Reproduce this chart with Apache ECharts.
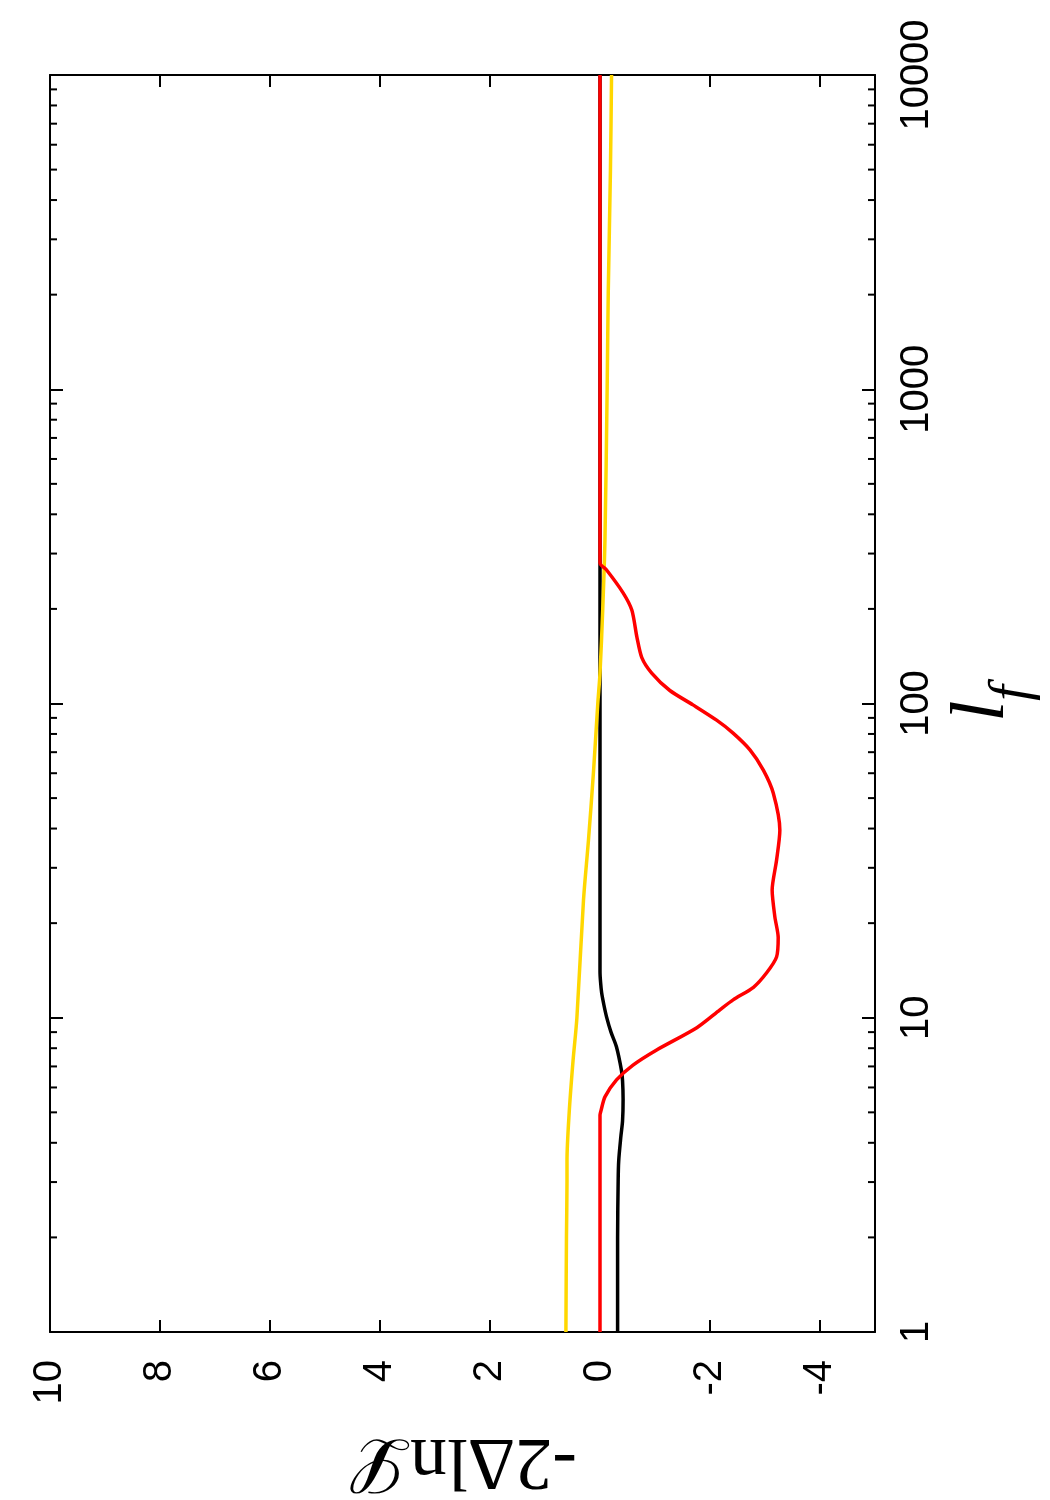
<!DOCTYPE html>
<html>
<head>
<meta charset="utf-8">
<script src="https://cdn.jsdelivr.net/npm/echarts@6/dist/echarts.min.js"></script>
<style>
html,body{margin:0;padding:0;background:#fff;}
#chart{width:1050px;height:1500px;}
</style>
</head>
<body>
<div id="chart"></div>
<script>
// l_f values (vertical log axis) and -2ΔlnL values (horizontal axis)
const lfBlack  = [1, 2, 3, 3.5, 4.2, 4.7, 5.5, 6.3, 6.8, 8.07, 9, 10.05, 11, 12, 13, 14, 100, 280, 10000];
const valBlack = [-0.32, -0.32, -0.33, -0.34, -0.38, -0.41, -0.42, -0.41, -0.39, -0.30, -0.20, -0.12, -0.07, -0.03, -0.01, 0, 0, 0, 0];

const lfYellow  = [1, 2, 3, 3.5, 5, 7.3, 10, 23.7, 36.7, 60, 100, 125, 200, 331, 1000, 2023, 5000, 10000];
const valYellow = [0.62, 0.61, 0.60, 0.60, 0.56, 0.49, 0.42, 0.30, 0.21, 0.12, 0.04, 0, -0.05, -0.09, -0.13, -0.15, -0.19, -0.21];

const lfRed  = [1, 4.9, 5.08, 5.6, 6.34, 7.07, 7.9, 9.3, 10.6, 11.4, 12.5, 13.9, 15.6, 18, 20.9, 25.5, 31.7, 39.5, 51.9, 61.4, 71.1, 80.5, 88.5, 99, 110, 125, 140, 163, 198, 225, 266, 280, 10000];
const valRed = [0, 0, -0.02, -0.09, -0.30, -0.60, -1.03, -1.76, -2.18, -2.42, -2.79, -3.03, -3.21, -3.24, -3.18, -3.13, -3.21, -3.27, -3.15, -2.97, -2.73, -2.42, -2.12, -1.69, -1.27, -0.94, -0.76, -0.67, -0.58, -0.42, -0.12, 0, 0];

const xTickLabels = ['10', '8', '6', '4', '2', '0', '-2', '-4'];
const yTickLabels = ['1', '10', '100', '1000', '10000'];
const minorTickValues = [2,3,4,5,6,7,8,9, 20,30,40,50,60,70,80,90, 200,300,400,500,600,700,800,900, 2000,3000,4000,5000,6000,7000,8000,9000];

function zip(ls, vs) { return ls.map((l, i) => [vs[i], l]); }

const chart = echarts.init(document.getElementById('chart'), null, {renderer: 'canvas'});
const labelFont = {fontFamily: 'Liberation Sans, Arial, sans-serif', fontSize: 40, color: '#000'};
const axisLineStyle = {color: '#000', width: 2};
const tickStyle = {width: 2, color: '#000'};

const option = {
  backgroundColor: '#fff',
  animation: false,
  grid: {left: 50, right: 175, top: 75, bottom: 168, containLabel: false, outerBoundsMode: 'none'},
  xAxis: [
    {
      type: 'value', min: -5, max: 10, inverse: true, splitNumber: 7, position: 'bottom',
      axisLine: {show: true, onZero: false, lineStyle: axisLineStyle},
      axisTick: {show: true, inside: true, length: 12, lineStyle: tickStyle},
      splitLine: {show: false},
      axisLabel: Object.assign({
        rotate: 90, margin: 28,
        formatter: v => xTickLabels.indexOf(String(Math.round(v))) >= 0 ? String(Math.round(v)) : ''
      }, labelFont),
      name: '-2\u0394ln\u2112', nameLocation: 'middle', nameRotate: 180, nameGap: 90,
      nameTextStyle: {fontFamily: 'Liberation Serif, DejaVu Serif, serif', fontSize: 74, color: '#000'}
    },
    {
      type: 'value', min: -5, max: 10, inverse: true, splitNumber: 7, position: 'top',
      axisLine: {show: true, onZero: false, lineStyle: axisLineStyle},
      axisTick: {show: true, inside: true, length: 12, lineStyle: tickStyle},
      splitLine: {show: false}, axisLabel: {show: false}
    }
  ],
  yAxis: [
    {
      type: 'log', logBase: 10, min: 1, max: 10000, position: 'right',
      axisLine: {show: true, onZero: false, lineStyle: axisLineStyle},
      axisTick: {show: true, inside: true, length: 13, lineStyle: tickStyle},
      minorTick: {show: false}, splitLine: {show: false},
      axisLabel: Object.assign({
        rotate: 90, margin: 22,
        formatter: v => { const s = String(Math.round(v)); return yTickLabels.indexOf(s) >= 0 ? s : ''; }
      }, labelFont),
      name: '{l|l}{f|f}', nameLocation: 'middle', nameRotate: 90, nameGap: 64,
      nameTextStyle: {
        color: '#000',
        rich: {
          l: {fontFamily: 'Liberation Serif, DejaVu Serif, serif', fontStyle: 'italic', fontSize: 76, lineHeight: 76, verticalAlign: 'top'},
          f: {fontFamily: 'Liberation Serif, DejaVu Serif, serif', fontStyle: 'italic', fontSize: 56, lineHeight: 96, verticalAlign: 'bottom'}
        }
      }
    },
    {
      type: 'log', logBase: 10, min: 1, max: 10000, position: 'left',
      axisLine: {show: true, onZero: false, lineStyle: axisLineStyle},
      axisTick: {show: true, inside: true, length: 13, lineStyle: tickStyle},
      splitLine: {show: false}, axisLabel: {show: false}
    }
  ],
  series: [
    {
      type: 'custom', xAxisIndex: 0, yAxisIndex: 0, silent: true, clip: false,
      data: minorTickValues.map(v => [0, v]),
      renderItem: function (params, api) {
        const l = api.value(1);
        const pL = api.coord([10, l]);
        const pR = api.coord([-5, l]);
        return {
          type: 'group',
          children: [
            {type: 'line', shape: {x1: pL[0], y1: pL[1], x2: pL[0] + 7, y2: pL[1]}, style: {stroke: '#000', lineWidth: 2}},
            {type: 'line', shape: {x1: pR[0], y1: pR[1], x2: pR[0] - 7, y2: pR[1]}, style: {stroke: '#000', lineWidth: 2}}
          ]
        };
      }
    },
    {
      type: 'line', xAxisIndex: 0, yAxisIndex: 0, data: zip(lfBlack, valBlack),
      showSymbol: false, smooth: 0.3, lineStyle: {color: '#000000', width: 3.5}
    },
    {
      type: 'line', xAxisIndex: 0, yAxisIndex: 0, data: zip(lfYellow, valYellow),
      showSymbol: false, smooth: 0.3, lineStyle: {color: '#ffd700', width: 3.5}
    },
    {
      type: 'line', xAxisIndex: 0, yAxisIndex: 0, data: zip(lfRed, valRed),
      showSymbol: false, smooth: 0.25, lineStyle: {color: '#ff0000', width: 3.5}
    }
  ]
};
chart.setOption(option);
</script>
</body>
</html>
